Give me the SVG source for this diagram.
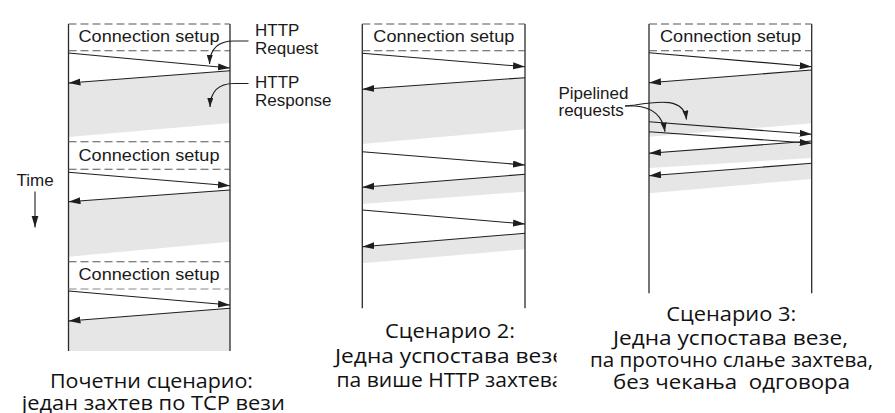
<svg xmlns="http://www.w3.org/2000/svg" width="895" height="413" viewBox="0 0 895 413">
<style>
.bg{fill:#ffffff}
.shade{fill:#e6e6e6;stroke:none}
.life{stroke:#2a2a2a;stroke-width:1.3;fill:none}
.dash{stroke:#555;stroke-width:1.1;stroke-dasharray:8 4;fill:none}
.msg{stroke:#1e1e1e;stroke-width:1.1;fill:none;marker-end:url(#ah)}
.call{stroke:#1e1e1e;stroke-width:1.2;fill:none;marker-end:url(#ahs)}
.lbl{font-family:"Liberation Sans",Arial,sans-serif;font-size:17px;fill:#1a1a1a}
.cap{font-family:"Open Sans","Noto Sans",sans-serif;font-size:20.5px;fill:#111;text-anchor:middle;white-space:pre}
</style>
<defs>
<marker id="ah" markerUnits="userSpaceOnUse" markerWidth="13" markerHeight="8" refX="12" refY="3.5" orient="auto">
<path d="M0,0 L12,3.5 L0,7 z" fill="#1e1e1e"/>
</marker>
<marker id="ahs" markerUnits="userSpaceOnUse" markerWidth="10" markerHeight="8" refX="9" refY="3" orient="auto">
<path d="M0,0 L9,3 L0,6 z" fill="#1e1e1e"/>
</marker>
<clipPath id="clip2"><rect x="300" y="340" width="256.5" height="60"/></clipPath>
</defs>
<rect class="bg" x="0" y="0" width="895" height="413"/>

<g id="time">
<text class="lbl" x="16.5" y="185.5">Time</text>
<line class="msg" x1="35" y1="191.5" x2="35" y2="227.5"/>
</g>

<g id="scenario1">
<polygon class="shade" points="230,70.7 68.5,83 68.5,137 230,123"/>
<polygon class="shade" points="230,190 68.5,201.7 68.5,256.7 230,241.7"/>
<polygon class="shade" points="230,308.3 68.5,321 68.5,351 230,351"/>
<line class="life" x1="68.5" y1="24" x2="68.5" y2="351"/>
<line class="life" x1="230" y1="24" x2="230" y2="351"/>
<line class="dash" x1="68.5" y1="24" x2="230" y2="24"/>
<line class="dash" x1="68.5" y1="50.7" x2="230" y2="50.7"/>
<line class="dash" x1="68.5" y1="141.7" x2="230" y2="141.7"/>
<line class="dash" x1="68.5" y1="169.3" x2="230" y2="169.3"/>
<line class="dash" x1="68.5" y1="261.7" x2="230" y2="261.7"/>
<line class="dash" x1="68.5" y1="289" x2="230" y2="289" style="stroke:#888"/>
<text class="lbl" x="78.5" y="42.3" textLength="141" lengthAdjust="spacingAndGlyphs">Connection setup</text>
<text class="lbl" x="78.5" y="160.7" textLength="141" lengthAdjust="spacingAndGlyphs">Connection setup</text>
<text class="lbl" x="78.5" y="280" textLength="141" lengthAdjust="spacingAndGlyphs">Connection setup</text>
<text class="lbl" x="255" y="35.7">HTTP</text>
<text class="lbl" x="255" y="54.3">Request</text>
<text class="lbl" x="255" y="88.3">HTTP</text>
<text class="lbl" x="255" y="106">Response</text>
<text class="cap" x="151.5" y="388.3" textLength="203" lengthAdjust="spacingAndGlyphs">Почетни сценарио:</text>
<text class="cap" x="153.3" y="409.5" textLength="263" lengthAdjust="spacingAndGlyphs">један захтев по TCP вези</text>
</g>

<g id="scenario2">
<polygon class="shade" points="525,77.7 362.3,89.3 362.3,144 525,129.3"/>
<polygon class="shade" points="525,174.3 362.3,187.3 362.3,204 525,191.7"/>
<polygon class="shade" points="525,233.3 362.3,246.7 362.3,263.3 525,249.3"/>
<line class="life" x1="362.3" y1="24" x2="362.3" y2="308.3"/>
<line class="life" x1="525" y1="24" x2="525" y2="308.3"/>
<line class="dash" x1="362.3" y1="24" x2="525" y2="24"/>
<line class="dash" x1="362.3" y1="50.7" x2="525" y2="50.7"/>
<text class="lbl" x="373.3" y="42.3" textLength="141" lengthAdjust="spacingAndGlyphs">Connection setup</text>
<text class="cap" x="450" y="337.7" textLength="130" lengthAdjust="spacingAndGlyphs">Сценарио 2:</text>
<g clip-path="url(#clip2)">
<text class="cap" x="450" y="362.7" textLength="230" lengthAdjust="spacingAndGlyphs">Једна успостава везе</text>
<text class="cap" x="450" y="387.3" textLength="227" lengthAdjust="spacingAndGlyphs">па више HTTP захтева</text>
</g>
</g>

<g id="scenario3">
<polygon class="shade" points="811.7,70 649,82.7 649,136.7 811.7,123.3"/>
<polygon class="shade" points="811.7,141 649,153.3 649,168 811.7,158"/>
<polygon class="shade" points="811.7,163.3 649,175.7 649,193.3 811.7,179"/>
<line class="life" x1="649" y1="24" x2="649" y2="293.3"/>
<line class="life" x1="811.7" y1="24" x2="811.7" y2="293.3"/>
<line class="dash" x1="649" y1="24" x2="811.7" y2="24"/>
<line class="dash" x1="649" y1="50.7" x2="811.7" y2="50.7"/>
<text class="lbl" x="660" y="42.3" textLength="141" lengthAdjust="spacingAndGlyphs">Connection setup</text>
<text class="lbl" x="558.5" y="99.3">Pipelined</text>
<text class="lbl" x="558.5" y="115.7">requests</text>
<text class="cap" x="731.3" y="320.7" textLength="130" lengthAdjust="spacingAndGlyphs">Сценарио 3:</text>
<text class="cap" x="730.5" y="344.5" textLength="235" lengthAdjust="spacingAndGlyphs">Једна успостава везе,</text>
<text class="cap" x="731.5" y="367" textLength="283" lengthAdjust="spacingAndGlyphs">па проточно слање захтева,</text>
<text class="cap" x="731.5" y="389" textLength="237" lengthAdjust="spacingAndGlyphs">без чекања  одговора</text>
</g>

<g id="connectors">
<line class="msg" x1="68.5" y1="53" x2="230" y2="68"/>
<line class="msg" x1="230" y1="70.7" x2="68.5" y2="83"/>
<line class="msg" x1="68.5" y1="172.3" x2="230" y2="185.7"/>
<line class="msg" x1="230" y1="190" x2="68.5" y2="201.7"/>
<line class="msg" x1="68.5" y1="291" x2="230" y2="305"/>
<line class="msg" x1="230" y1="308.3" x2="68.5" y2="321"/>
<path class="call" d="M248.5,41 L234,41 C218,41 210,48 209.5,64"/>
<path class="call" d="M248.5,83.5 L234,83.5 C218,83.5 210.5,91 210,107"/>

<line class="msg" x1="362.3" y1="53.3" x2="525" y2="66.7"/>
<line class="msg" x1="525" y1="77.7" x2="362.3" y2="89.3"/>
<line class="msg" x1="362.3" y1="151.7" x2="525" y2="165"/>
<line class="msg" x1="525" y1="174.3" x2="362.3" y2="187.3"/>
<line class="msg" x1="362.3" y1="210" x2="525" y2="224"/>
<line class="msg" x1="525" y1="233.3" x2="362.3" y2="246.7"/>

<line class="msg" x1="649" y1="52.7" x2="811.7" y2="66.7"/>
<line class="msg" x1="811.7" y1="70" x2="649" y2="82.7"/>
<line class="msg" x1="649" y1="121.7" x2="811.7" y2="134.3"/>
<line class="msg" x1="649" y1="131.7" x2="811.7" y2="143.3"/>
<line class="msg" x1="811.7" y1="141" x2="649" y2="153.3"/>
<line class="msg" x1="811.7" y1="163.3" x2="649" y2="175.7"/>
<path class="call" d="M625,106 L635,105 C660,101 684,98 686.5,119.5"/>
<path class="call" d="M625,106 L635,106 C650,107 662,113 665,131.7"/>
</g>
</svg>
